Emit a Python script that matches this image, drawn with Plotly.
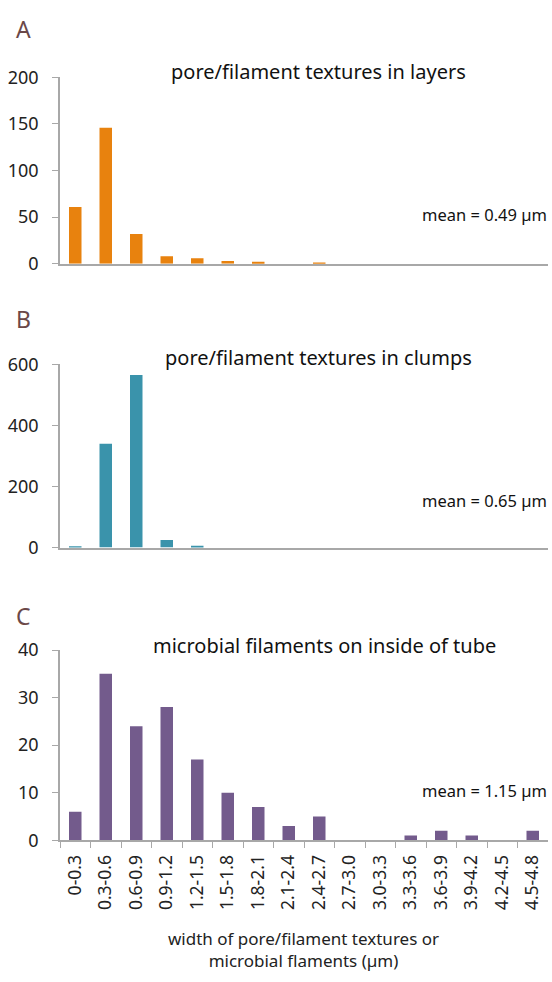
import plotly.graph_objects as go

categories = ["0-0.3", "0.3-0.6", "0.6-0.9", "0.9-1.2", "1.2-1.5", "1.5-1.8", "1.8-2.1",
              "2.1-2.4", "2.4-2.7", "2.7-3.0", "3.0-3.3", "3.3-3.6", "3.6-3.9",
              "3.9-4.2", "4.2-4.5", "4.5-4.8"]
layers_counts = [61, 146, 32, 8, 6, 3, 2, 0, 1, 0, 0, 0, 0, 0, 0, 0]
clumps_counts = [3, 340, 565, 25, 6, 0, 0, 0, 0, 0, 0, 0, 0, 0, 0, 0]
tube_counts = [6, 35, 24, 28, 17, 10, 7, 3, 5, 0, 0, 1, 2, 1, 0, 2]

titles = ["pore/filament textures in layers", "pore/filament textures in clumps",
          "microbial filaments on inside of tube"]
means = ["mean = 0.49 µm", "mean = 0.65 µm", "mean = 1.15 µm"]
panel_letters = ["A", "B", "C"]
y_ticks = [[0, 50, 100, 150, 200], [0, 200, 400, 600], [0, 10, 20, 30, 40]]
y_ranges = [[0, 200], [0, 600], [0, 40]]
colors = ["#E8820E", "#3A93AB", "#735B8C"]
x_title = "width of pore/filament textures or<br>microbial flaments (µm)"

W, H = 552, 982
def py(p):
    return 1 - p / H

# pixel extents of each panel (top, bottom)
panels = [(66, 257), (360, 548), (653, 848)]
xdom = [60 / W, 548 / W]

fig = go.Figure()
series = [layers_counts, clumps_counts, tube_counts]
for i, vals in enumerate(series):
    sfx = "" if i == 0 else str(i + 1)
    fig.add_trace(go.Bar(x=categories, y=vals, marker_color=colors[i],
                         marker_line_width=0, width=0.41,
                         xaxis="x" + sfx, yaxis="y" + sfx, showlegend=False))

layout = dict(width=W, height=H, margin=dict(l=0, r=0, t=0, b=0),
              plot_bgcolor="white", paper_bgcolor="white",
              font=dict(family="Noto Sans", color="#222222"))
axis_color = "#A8A8A8"
for i in range(3):
    sfx = "" if i == 0 else str(i + 1)
    top, bot = panels[i]
    layout["xaxis" + sfx] = dict(
        domain=xdom, anchor="y" + sfx, type="category",
        categoryorder="array", categoryarray=categories,
        range=[-0.5, 15.5], showgrid=False, zeroline=False,
        showline=True, linecolor=axis_color, linewidth=1.5,
        showticklabels=(i == 2), ticks="outside" if i == 2 else "",
        tickson="boundaries", ticklen=6, tickcolor=axis_color, tickwidth=1,
        tickangle=-90, ticklabelstandoff=6,
        tickfont=dict(family="Noto Sans", size=17.5, color="#222222"),
        fixedrange=True)
    layout["yaxis" + sfx] = dict(
        domain=[py(bot), py(top)], anchor="x" + sfx, range=y_ranges[i],
        tickvals=y_ticks[i], showgrid=False, zeroline=False,
        showline=True, linecolor=axis_color, linewidth=1.5,
        ticks="outside", ticklen=6, tickcolor=axis_color, ticklabelstandoff=10,
        tickfont=dict(family="Noto Sans", size=18, color="#222222"),
        fixedrange=True)
fig.update_layout(**layout)

title_pos = [(318, 60), (318, 353), (324, 648)]
mean_pos = [207, 500, 797]
letter_pos = [16, 314, 618]
for i in range(3):
    fig.add_annotation(text=titles[i], x=title_pos[i][0] / W, y=py(title_pos[i][1]),
                       xref="paper", yref="paper", showarrow=False,
                       xanchor="center", yanchor="middle",
                       font=dict(family="Noto Sans", size=20, color="#111111"))
    fig.add_annotation(text=means[i], x=549 / W, y=py(mean_pos[i]),
                       xref="paper", yref="paper", showarrow=False,
                       xanchor="right", yanchor="middle",
                       font=dict(family="Noto Sans", size=16.5, color="#111111"))
    fig.add_annotation(text=panel_letters[i], x=14 / W, y=py(letter_pos[i]),
                       xref="paper", yref="paper", showarrow=False,
                       xanchor="left", yanchor="middle",
                       font=dict(family="Noto Sans", size=23, color="#6B4848"))

fig.add_annotation(text=x_title, x=303 / W, y=py(960), xref="paper", yref="paper",
                   showarrow=False, xanchor="center", yanchor="middle",
                   font=dict(family="Noto Sans", size=17, color="#222222"))

fig.write_html(
    "out.html", config={"displayModeBar": False},
    post_script=(
        "document.documentElement.style.margin='0';"
        "document.documentElement.style.overflow='hidden';"
        "document.body.style.margin='0';"
        "document.body.style.overflow='hidden';"
        "var d=document.getElementById('{plot_id}');"
        "d.style.position='fixed';d.style.top='0px';d.style.left='0px';"
    ))
